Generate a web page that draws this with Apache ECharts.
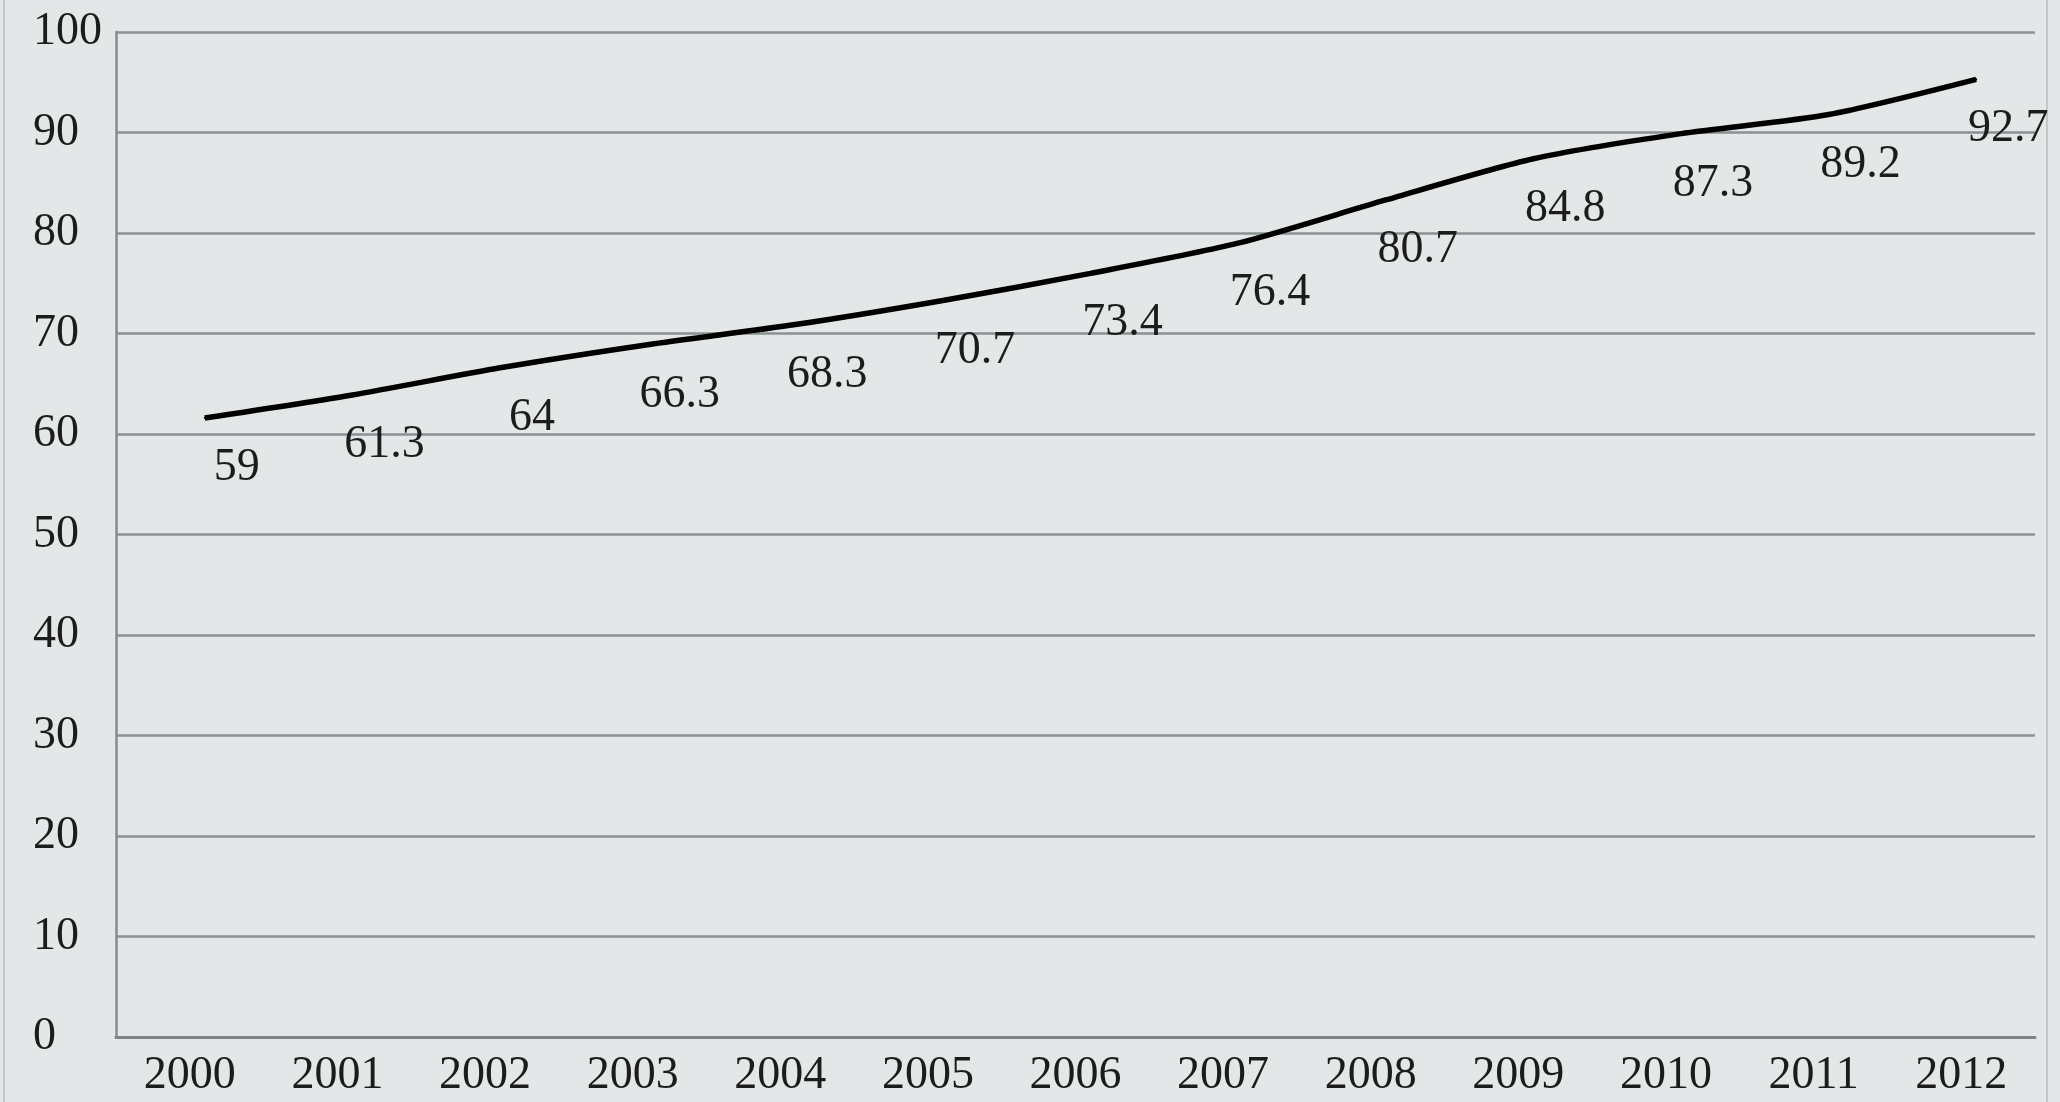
<!DOCTYPE html>
<html>
<head>
<meta charset="utf-8">
<script src="https://cdn.jsdelivr.net/npm/echarts@6/dist/echarts.min.js"></script>
<style>
  html, body { margin: 0; padding: 0; background: #e4e7e8; }
  #chart { width: 2060px; height: 1102px; }
</style>
</head>
<body>
<div id="chart"></div>
<script>
var years = ["2000", "2001", "2002", "2003", "2004", "2005", "2006", "2007", "2008", "2009", "2010", "2011", "2012"];
var values = [59, 61.3, 64, 66.3, 68.3, 70.7, 73.4, 76.4, 80.7, 84.8, 87.3, 89.2, 92.7];
var yTicks = [0, 10, 20, 30, 40, 50, 60, 70, 80, 90, 100];

var chart = echarts.init(document.getElementById("chart"));

var font = "'Liberation Serif', 'DejaVu Serif', serif";

var option = {
  backgroundColor: "#e4e7e8",
  animation: false,
  // thin frame round the picture
  graphic: [
    {
      type: "rect",
      shape: { x: 4, y: -10, width: 2043, height: 1130 },
      style: { fill: "none", stroke: "#c3c7c8", lineWidth: 2 },
      silent: true
    }
  ],
  // grid 0 carries the visible axes, grid 1 the (slightly shifted) line as in the source
  grid: [
    { left: 116, right: 25, top: 32, bottom: 65 },
    { left: 131, right: 10, top: 6, bottom: 91 }
  ],
  xAxis: [
    {
      type: "category",
      gridIndex: 0,
      data: years,
      axisTick: { show: false },
      axisLine: { show: true, lineStyle: { color: "#7d8487", width: 3 } },
      axisLabel: {
        margin: 16,
        fontFamily: font,
        fontSize: 46,
        color: "#1c1c1c"
      }
    },
    {
      type: "category",
      gridIndex: 1,
      data: years,
      show: false
    }
  ],
  yAxis: [
    {
      type: "value",
      gridIndex: 0,
      min: yTicks[0],
      max: yTicks[yTicks.length - 1],
      interval: 10,
      axisTick: { show: false },
      axisLine: { show: true, lineStyle: { color: "#868c8f", width: 2.5 } },
      axisLabel: {
        align: "left",
        margin: 83,
        fontFamily: font,
        fontSize: 46,
        color: "#1c1c1c"
      },
      splitLine: {
        show: true,
        lineStyle: { color: "#8a9093", width: 2.5 }
      }
    },
    {
      type: "value",
      gridIndex: 1,
      min: yTicks[0],
      max: yTicks[yTicks.length - 1],
      show: false,
      splitLine: { show: false }
    }
  ],
  series: [
    {
      type: "line",
      xAxisIndex: 1,
      yAxisIndex: 1,
      data: values,
      smooth: 0.25,
      symbol: "circle",
      symbolSize: 2,
      itemStyle: { color: "#000" },
      lineStyle: { color: "#000", width: 5.5, cap: "butt" },
      label: {
        show: true,
        position: "inside",
        offset: [32, 50],
        fontFamily: font,
        fontSize: 46,
        color: "#1c1c1c"
      }
    }
  ]
};

chart.setOption(option);
window.addEventListener("resize", function () {
  chart.resize();
});
</script>
</body>
</html>
